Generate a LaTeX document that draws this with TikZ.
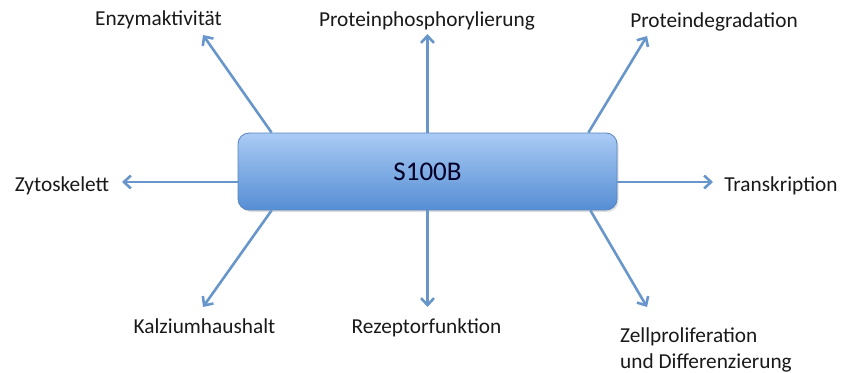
\documentclass[tikz,border=0pt]{standalone}
\usepackage{fontspec}
\setmainfont{Carlito}
\usetikzlibrary{arrows.meta,calc,shadows}
\definecolor{arrowblue}{RGB}{104,150,203}
\definecolor{boxtop}{RGB}{170,203,244}
\definecolor{boxbottom}{RGB}{86,142,212}
\definecolor{boxedge}{RGB}{88,132,190}
\definecolor{labeltext}{RGB}{25,25,25}
\begin{document}
\begin{tikzpicture}[x=1pt,y=-1pt,
  effect/.style={draw=arrowblue,line width=2.6pt,
    -{Straight Barb[length=7pt,width=13pt,line width=2.6pt]}},
  label/.style={inner sep=0pt,anchor=base,text=labeltext,
    font=\fontsize{21.3}{27}\selectfont},
  hub/.style={rounded corners=11pt,draw=boxedge,line width=0.8pt,
    top color=boxtop,bottom color=boxbottom,
    minimum width=379pt,minimum height=77pt,
    font=\fontsize{27}{32}\selectfont,text=black!85!blue,
    drop shadow={opacity=0.25,shadow xshift=1.5pt,shadow yshift=-2pt}}]
\useasboundingbox (0,0) rectangle (842,372);

% central protein
\node[hub] (s) at (427.5,171.5) {S100B};

% target labels
\node[label] (enz)  at (158.5,25) {Enzymaktivität};
\node[label] (phos) at (427,26) {Proteinphosphorylierung};
\node[label] (deg)  at (714,27) {Proteindegradation};
\node[label] (zyt)  at (62,191) {Zytoskelett};
\node[label] (tra)  at (781,191) {Transkription};
\node[label] (kal)  at (204.5,333) {Kalziumhaushalt};
\node[label] (rez)  at (426.5,333) {Rezeptorfunktion};
\node[label,anchor=base west] (zel) at (620,342) {Zellproliferation};
\node[label,anchor=base west] (dif) at (620,368) {und Differenzierung};

% arrow tips
\coordinate (tenz)  at (203,35);
\coordinate (tphos) at (427.5,34);
\coordinate (tdeg)  at (647,36);
\coordinate (tzyt)  at (122,182);
\coordinate (ttra)  at (713,182);
\coordinate (tkal)  at (203,307);
\coordinate (trez)  at (427.5,307);
\coordinate (tzel)  at (647,307);

% arrows from the hub
\draw[effect] ($(s.north west)+(34,0)$) -- (tenz);
\draw[effect] (s.north) -- (tphos);
\draw[effect] ($(s.north east)+(-29,0)$) -- (tdeg);
\draw[effect] (s.west |- tzyt) -- (tzyt);
\draw[effect] (s.east |- ttra) -- (ttra);
\draw[effect] ($(s.south west)+(34,0)$) -- (tkal);
\draw[effect] (s.south) -- (trez);
\draw[effect] ($(s.south east)+(-27,0)$) -- (tzel);
\end{tikzpicture}
\end{document}
